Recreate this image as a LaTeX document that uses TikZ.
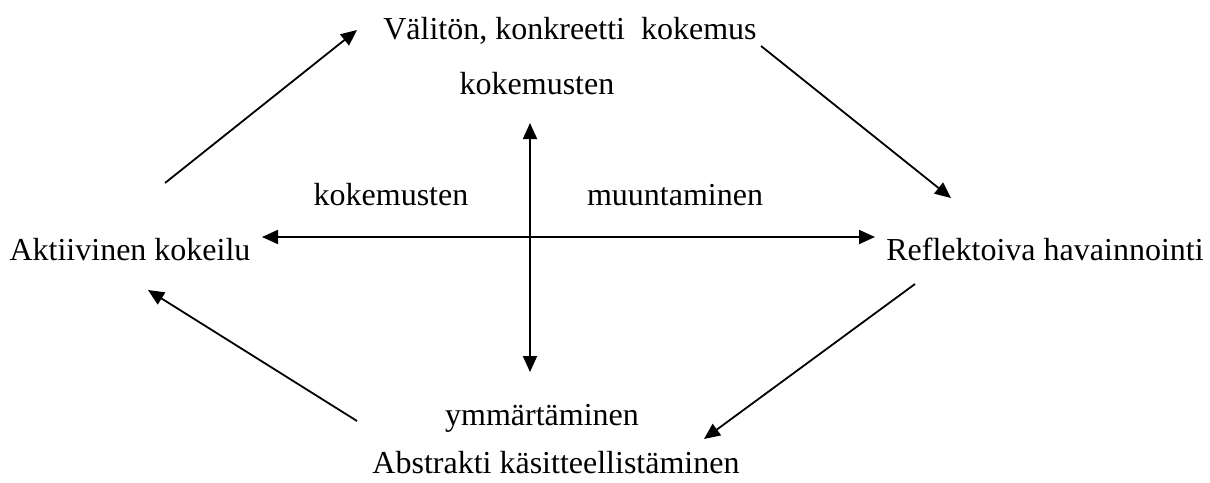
\documentclass[tikz,border=0pt]{standalone}
\usepackage{fontspec}
\setmainfont{Liberation Serif}
\usetikzlibrary{arrows.meta}

\begin{document}
\begin{tikzpicture}[
    x=1pt, y=-1pt,
    lbl/.style={anchor=base, inner sep=0pt, font=\fontsize{32}{38}\selectfont},
    flow/.style={-{Triangle[length=16pt,width=14pt]}, line width=1.8pt},
    axis/.style={{Triangle[length=16pt,width=14pt]}-{Triangle[length=16pt,width=14pt]}, line width=1.8pt}
]
    \useasboundingbox (0,0) rectangle (1210,482);

    % the four stages
    \node[lbl] (kokemus) at (570,39) {Välitön, konkreetti~ kokemus};
    \node[lbl] (aktiivinen) at (130,260) {Aktiivinen kokeilu};
    \node[lbl] (reflektoiva) at (1045,260) {Reflektoiva havainnointi};
    \node[lbl] (abstrakti) at (556,473) {Abstrakti käsitteellistäminen};

    % the axis labels
    \node[lbl] (ylakok) at (537,94) {kokemusten};
    \node[lbl] (vasenkok) at (391,205) {kokemusten};
    \node[lbl] (muunt) at (675,205) {muuntaminen};
    \node[lbl] (ymmar) at (542,425) {ymmärtäminen};

    % axis ends
    \coordinate (axleft) at (262,237);
    \coordinate (axright) at (875,237);
    \coordinate (axtop) at (530,123);
    \coordinate (axbottom) at (530,372);

    \draw[axis] (axleft) -- (axright);
    \draw[axis] (axtop) -- (axbottom);

    % cycle ends
    \coordinate (akt1) at (165,183);
    \coordinate (kok1) at (357,30);
    \coordinate (kok2) at (761,46);
    \coordinate (ref1) at (951,198);
    \coordinate (ref2) at (915,284);
    \coordinate (abs1) at (704,439);
    \coordinate (abs2) at (357,421);
    \coordinate (akt2) at (148,290);

    \draw[flow] (akt1) -- (kok1);
    \draw[flow] (kok2) -- (ref1);
    \draw[flow] (ref2) -- (abs1);
    \draw[flow] (abs2) -- (akt2);
\end{tikzpicture}
\end{document}
